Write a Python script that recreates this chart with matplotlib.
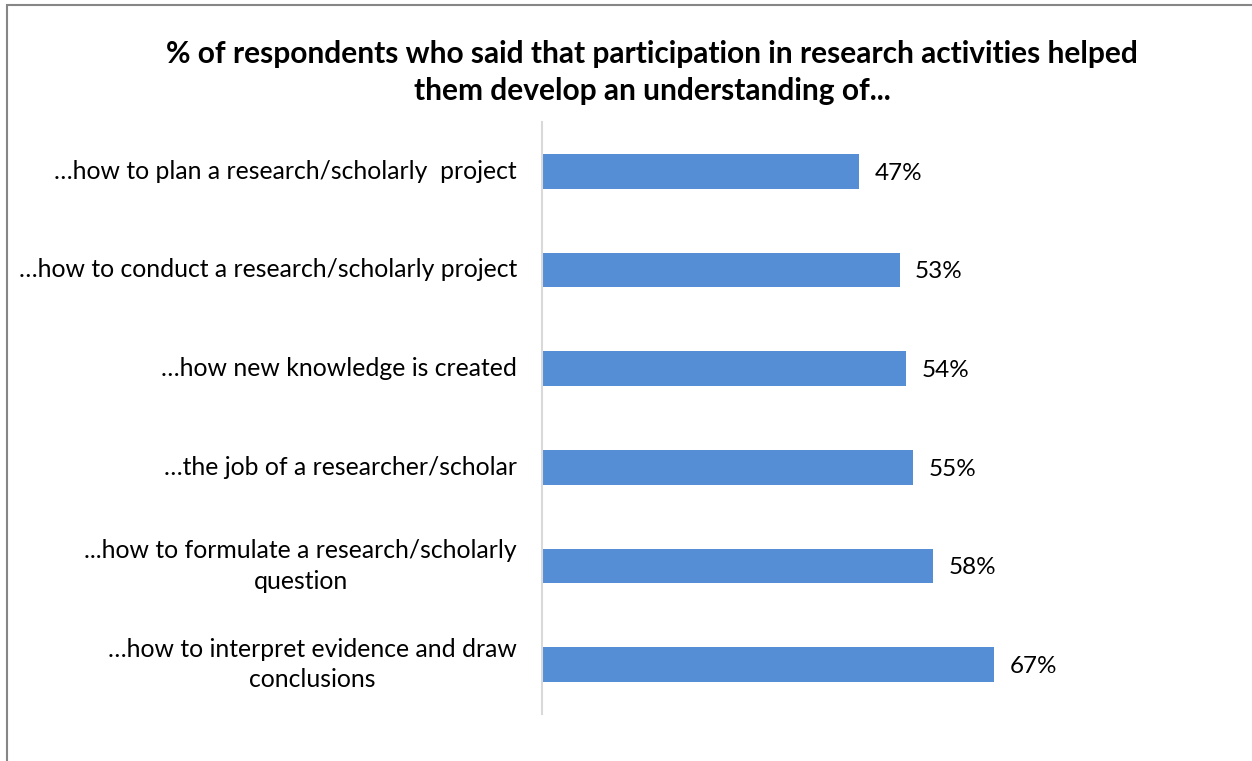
import matplotlib.pyplot as plt
from matplotlib.patches import Rectangle

plt.rcParams['font.family'] = ['Lato', 'DejaVu Sans']

# survey categories, top to bottom
categories = [
    "\u2026how to plan a research/scholarly  project",
    "\u2026how to conduct a research/scholarly project",
    "\u2026how new knowledge is created",
    "\u2026the job of a researcher/scholar",
    "...how to formulate a research/scholarly\nquestion",
    "\u2026how to interpret evidence and draw\nconclusions",
]
percent = [47, 53, 54, 55, 58, 67]

title = ("% of respondents who said that participation in research activities helped\n"
         "them develop an understanding of...")

bar_color = "#558ED5"

fig = plt.figure(figsize=(12.52, 7.61), dpi=100)
ax = fig.add_axes([0.4329, 0.0618, 0.5388, 0.7779])

ypos = list(range(len(categories)))[::-1]
ax.barh(ypos, percent, height=0.35, color=bar_color, zorder=2)

for y, v in zip(ypos, percent):
    ax.text(v + 2.3, y - 0.02, f"{v}%", va="center", ha="left", fontsize=17.5,
            color="#000000")

ax.set_xlim(0, 100)
ax.set_ylim(-0.5, 5.5)
ax.set_yticks(ypos)
ax.set_yticklabels(categories, fontsize=17.8, multialignment="center",
                   linespacing=1.38, va="center")
ax.tick_params(axis="y", length=0, pad=18)
ax.set_xticks([])

for side in ("top", "right", "bottom"):
    ax.spines[side].set_visible(False)
ax.spines["left"].set_color("#d9d9d9")
ax.spines["left"].set_linewidth(1.5)

fig.text(0.521, 0.905, title, ha="center", va="center", fontsize=21.5,
         fontweight="bold", linespacing=1.4)

# outer chart frame
fig.patches.append(Rectangle((7 / 1252, -0.01), 1.1, 1 - 4.5 / 761 + 0.01,
                             transform=fig.transFigure, fill=False,
                             edgecolor="#868686", linewidth=1.5))

fig.savefig("out.png", dpi=100)
